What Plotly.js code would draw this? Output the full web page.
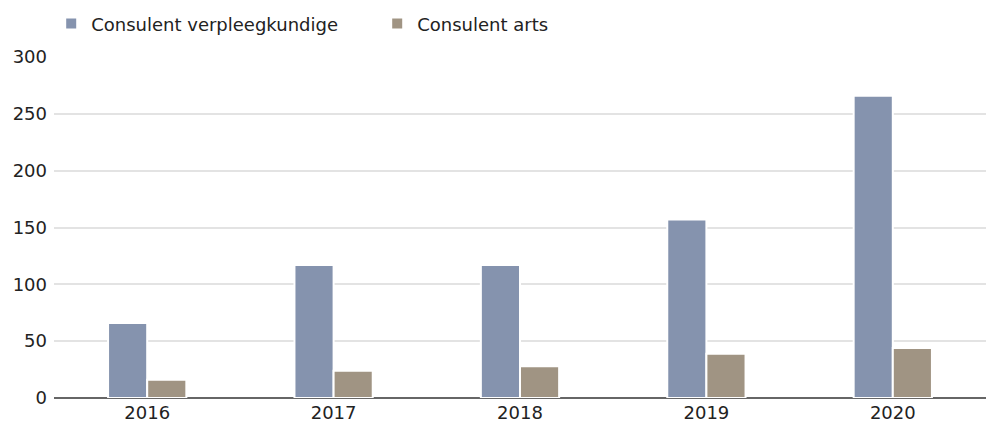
<!DOCTYPE html>
<html>
<head>
<meta charset="utf-8">
<script src="https://cdn.plot.ly/plotly-3.0.1.min.js"></script>
<style>html,body{margin:0;padding:0;background:#fff;}#chart{width:987px;height:432px;}</style>
</head>
<body>
<div id="chart"></div>
<script>
const years = ["2016", "2017", "2018", "2019", "2020"];
const verpleegkundige = [66, 117, 117, 157, 266];
const arts = [16, 24, 28, 39, 44];
const seriesNames = ["Consulent verpleegkundige", "Consulent arts"];
const yTicks = [0, 50, 100, 150, 200, 250, 300];

const traces = [
  {type: "bar", name: seriesNames[0], x: years, y: verpleegkundige,
   marker: {color: "#8593ae", line: {color: "#ffffff", width: 2}}},
  {type: "bar", name: seriesNames[1], x: years, y: arts,
   marker: {color: "#a09483", line: {color: "#ffffff", width: 2}}}
];

const layout = {
  width: 987, height: 432,
  margin: {l: 54, r: 1, t: 57, b: 34},
  paper_bgcolor: "#ffffff", plot_bgcolor: "#ffffff",
  font: {family: "'DejaVu Sans', sans-serif", size: 18, color: "#222"},
  barmode: "group", bargap: 0.58, bargroupgap: 0,
  showlegend: true,
  legend: {orientation: "h", x: -0.003, xanchor: "left", y: 1.097, yanchor: "middle",
           font: {size: 18, color: "#222"}, entrywidth: 281, entrywidthmode: "pixels",
           traceorder: "normal"},
  xaxis: {type: "category", showgrid: false, ticks: "", showline: false,
          ticklabelstandoff: 2, tickfont: {size: 18}, fixedrange: true},
  yaxis: {range: [0, 300], tickvals: yTicks, ticktext: yTicks.map(String),
          showgrid: true, gridcolor: "#e3e3e3", gridwidth: 2,
          zeroline: true, zerolinecolor: "#666666", zerolinewidth: 2,
          ticks: "", ticklabelstandoff: 6, tickfont: {size: 18}, fixedrange: true}
};

Plotly.newPlot("chart", traces, layout, {displayModeBar: false, staticPlot: true});
</script>
</body>
</html>
